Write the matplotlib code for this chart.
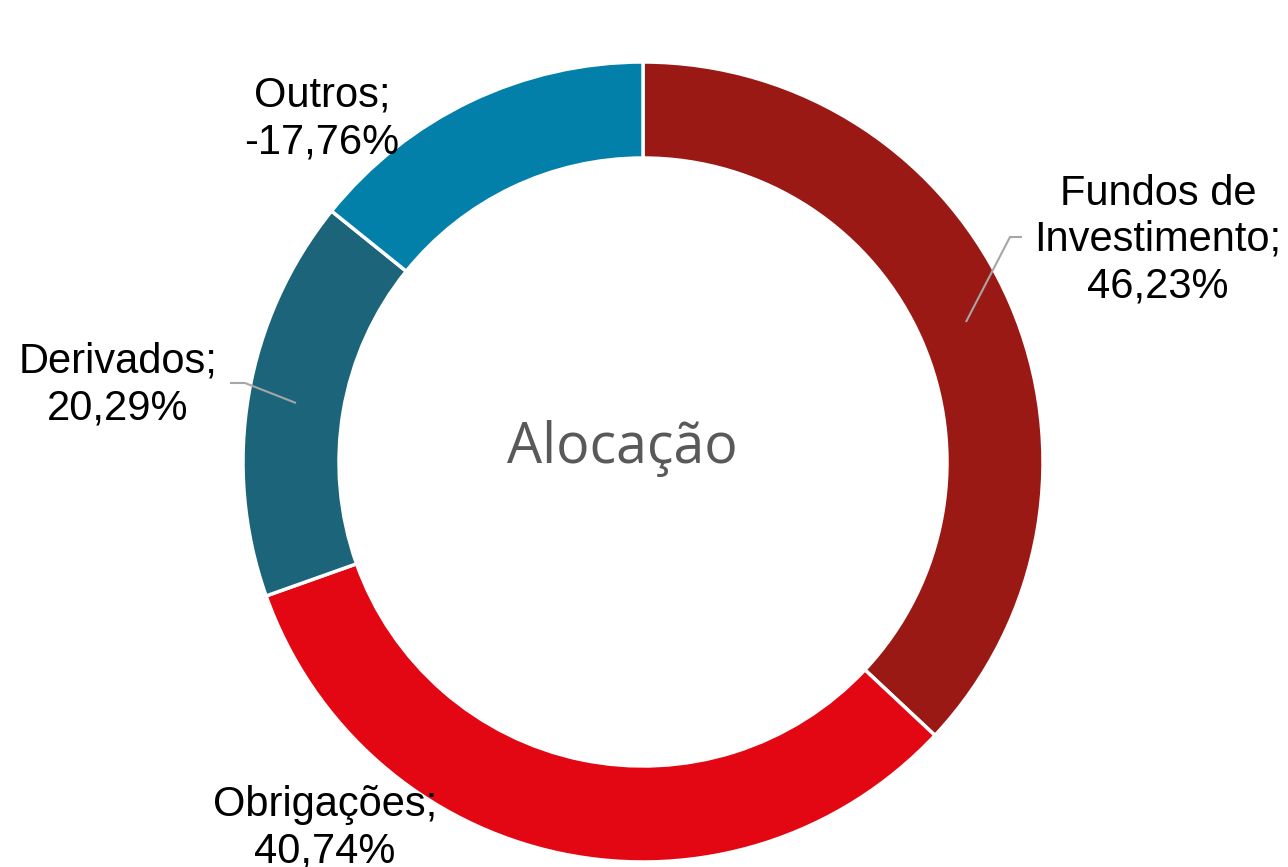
import numpy as np
import matplotlib
matplotlib.use("Agg")
import matplotlib.pyplot as plt

categories = ["Fundos de\nInvestimento", "Obrigações", "Derivados", "Outros"]
values = [46.23, 40.74, 20.29, -17.76]
colors = ["#9B1915", "#E30613", "#1C6479", "#0280AA"]

plt.rcParams['font.family'] = ['Liberation Sans', 'DejaVu Sans']

fig = plt.figure(figsize=(12.88, 8.67), dpi=100)
ax = fig.add_axes([0, 0, 1, 1])

sizes = np.abs(values)
wedges, _ = ax.pie(sizes, colors=colors, startangle=90, counterclock=False,
                   radius=1.0,
                   wedgeprops=dict(width=0.24, edgecolor="white", linewidth=2.5))

def fmt(v):
    return ("%.2f" % v).replace(".", ",") + "%"

# label placement: (text x, text y, leader elbow, leader end) in data units
label_pos = [
    (1.2875, 0.555, (0.9175, 0.5625), (0.9475, 0.5625)),
    (-0.795, -0.915, None, None),
    (-1.3125, 0.1925, (-0.995, 0.1975), (-1.0325, 0.1975)),
    (-0.8025, 0.8575, None, None),
]

for w, cat, v, (tx, ty, elbow, end) in zip(wedges, categories, values, label_pos):
    ax.text(tx, ty, cat + ";\n" + fmt(v), ha="center", va="center",
            fontsize=30, color="black", linespacing=1.2)
    if elbow is not None:
        mid = np.deg2rad((w.theta1 + w.theta2) / 2)
        r = 0.88
        ax.plot([r * np.cos(mid), elbow[0], end[0]],
                [r * np.sin(mid), elbow[1], end[1]],
                color="#A6A6A6", lw=1.5, solid_capstyle="butt")

ax.text(-0.0525, 0.033, "Alocação", ha="center", va="center", fontsize=40,
        color="#595959", family=["Open Sans", "DejaVu Sans"])

ax.set_xlim(-643 / 400, 645 / 400)
ax.set_ylim(-405 / 400, 462 / 400)
ax.set_aspect("auto")
ax.axis("off")

fig.savefig("out.png", dpi=100, facecolor="white")
